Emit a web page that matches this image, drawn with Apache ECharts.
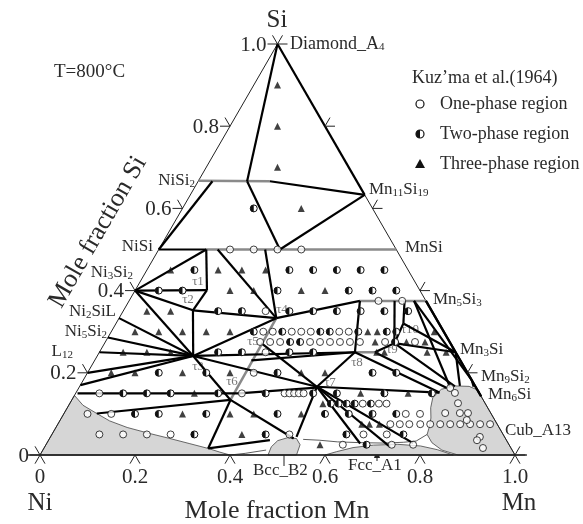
<!DOCTYPE html>
<html><head><meta charset="utf-8">
<script src="https://cdn.jsdelivr.net/npm/echarts@6/dist/echarts.min.js"></script>
<style>html,body{margin:0;padding:0;background:#fff}#chart{width:583px;height:524px}</style>
</head><body><div id="chart"></div>
<script>
// ---- data (compositions as [x(Mn), x(Si)]) ----
const ticks = [0, 0.2, 0.4, 0.6, 0.8, 1.0];
const tickLabels = ['0', '0.2', '0.4', '0.6', '0.8', '1.0'];

const tieLines = [
  [[0,1],[0.103,0.666]],
  [[0,1],[0.367,0.633]],
  [[0.151,0.666],[0.367,0.633]],
  [[0.103,0.666],[0.255,0.5]],
  [[0.255,0.5],[0.367,0.633]],
  [[0,0.5],[0.03,0.666]],
  [[0,0.5],[0.10,0.5]],
  [[0,0.4],[0.10,0.5]],
  [[0.10,0.5],[0.151,0.401]],
  [[0.124,0.5],[0.331,0.333]],
  [[0.224,0.5],[0.331,0.333]],
  [[0,0.4],[0.151,0.401]],
  [[0.151,0.401],[0.146,0.352]],
  [[0,0.4],[0.146,0.352]],
  [[0,0.4],[0.202,0.241]],
  [[0,0.333],[0.202,0.241]],
  [[0,0.286],[0.202,0.241]],
  [[0,0.25],[0.202,0.241]],
  [[0,0.2],[0.202,0.241]],
  [[0,0.17],[0.202,0.241]],
  [[0.146,0.352],[0.202,0.241]],
  [[0.146,0.352],[0.331,0.333]],
  [[0.202,0.241],[0.331,0.333]],
  [[0.202,0.241],[0.538,0.25]],
  [[0.202,0.241],[0.50,0.166]],
  [[0.202,0.241],[0.334,0.134]],
  [[0.331,0.333],[0.486,0.375]],
  [[0.486,0.375],[0.538,0.25]],
  [[0.538,0.25],[0.50,0.166]],
  [[0.33,0.23],[0.538,0.25]],
  [[0.33,0.272],[0.50,0.166]],
  [[0.004,0.15],[0.344,0.15],[0.50,0.164]],
  [[0.069,0.101],[0.334,0.134]],
  [[0.346,0.016],[0.334,0.134]],
  [[0.334,0.134],[0.514,0.04]],
  [[0.346,0.016],[0.466,0.036]],
  [[0.50,0.166],[0.765,0.152]],
  [[0.50,0.166],[0.518,0.044]],
  [[0.50,0.166],[0.66,0.028]],
  [[0.50,0.166],[0.727,0.02]],
  [[0.50,0.166],[0.771,0.029]],
  [[0.538,0.25],[0.765,0.152]],
  [[0.58,0.25],[0.775,0.163]],
  [[0.58,0.25],[0.61,0.272]],
  [[0.559,0.375],[0.61,0.272]],
  [[0.58,0.375],[0.605,0.32]],
  [[0.605,0.32],[0.61,0.272]],
  [[0.605,0.32],[0.75,0.25]],
  [[0.61,0.272],[0.75,0.25]],
  [[0.61,0.272],[0.79,0.167]],
  [[0.60,0.375],[0.78,0.166]],
  [[0.60,0.375],[0.818,0.182]],
  [[0.625,0.375],[0.75,0.25]],
  [[0.625,0.375],[0.857,0.143]],
  [[0.75,0.25],[0.80,0.168]],
  [[0.75,0.25],[0.818,0.182]],
  [[0.818,0.182],[0.83,0.166]],
  [[0.818,0.182],[0.857,0.143]]
];
const ssLines = [
  [[0,0.667],[0.151,0.666]],
  [[0.10,0.5],[0.5,0.5]],
  [[0.486,0.375],[0.625,0.375]],
  [[0.331,0.333],[0.334,0.134]],
  [[0.538,0.25],[0.58,0.25]]
];
const thinCurves = [
  [[0.535,0.038],[0.57,0.036],[0.61,0.032],[0.66,0.03],[0.71,0.029],[0.75,0.031],[0.775,0.034],[0.79,0.05]],
  [[0.40,0],[0.43,0.004],[0.47,0.012]]
];
const greyRegions = [
  [[0,0],[0,0.145],[0.03,0.121],[0.069,0.101],[0.105,0.083],[0.15,0.067],[0.202,0.053],[0.25,0.041],[0.30,0.028],[0.346,0.016],[0.375,0.007],[0.4,0]],
  [[0.48,0],[0.477,0.02],[0.483,0.035],[0.50,0.042],[0.52,0.04],[0.535,0.025],[0.54,0]],
  [[0.60,0],[0.62,0.008],[0.65,0.018],[0.69,0.024],[0.74,0.026],[0.79,0.022],[0.83,0.013],[0.87,0]],
  [[1,0],[0.86,0.14],[0.845,0.157],[0.82,0.167],[0.79,0.168],[0.765,0.16],[0.757,0.14],[0.765,0.115],[0.778,0.09],[0.785,0.07],[0.79,0.05],[0.81,0.03],[0.84,0.012],[0.88,0]]
];
const onePhase = [
  [0.15,0.5],[0.2,0.5],[0.25,0.5],[0.3,0.5],[0.525,0.375],[0.575,0.375],
  [0.3,0.35],
  [0.32,0.3],[0.34,0.3],[0.38,0.3],[0.40,0.3],[0.42,0.3],[0.48,0.3],[0.50,0.3],
  [0.326,0.275],[0.347,0.275],[0.368,0.275],[0.431,0.275],[0.452,0.275],[0.473,0.275],[0.494,0.275],[0.515,0.275],[0.536,0.275],[0.589,0.275],[0.652,0.275],
  [0.35,0.25],[0.35,0.2],
  [0.05,0.15],[0.35,0.15],[0.44,0.15],[0.45,0.15],[0.46,0.15],[0.47,0.15],[0.48,0.15],
  [0.617,0.125],[0.651,0.125],[0.667,0.125],
  [0.05,0.1],[0.1,0.1],[0.72,0.1],[0.75,0.1],
  [0.70,0.075],[0.72,0.075],[0.74,0.075],[0.763,0.075],[0.784,0.075],[0.805,0.075],[0.826,0.075],[0.847,0.075],[0.868,0.075],[0.889,0.075],[0.91,0.075],
  [0.1,0.05],[0.15,0.05],[0.2,0.05],[0.25,0.05],[0.5,0.05],[0.656,0.05],[0.705,0.05],
  [0.625,0.025],[0.728,0.025],[0.773,0.025],
  [0.782,0.163],[0.798,0.151],[0.817,0.126],[0.802,0.102],[0.833,0.102],[0.85,0.102],[0.856,0.085],[0.904,0.044],[0.924,0.017],[0.902,0.036]
];
const twoPhase = [
  [0.15,0.6],
  [0.1,0.45],[0.3,0.45],[0.35,0.45],[0.4,0.45],[0.45,0.45],[0.5,0.45],
  [0.05,0.4],[0.1,0.4],[0.3,0.4],[0.45,0.4],[0.5,0.4],[0.55,0.4],
  [0.2,0.35],[0.25,0.35],[0.35,0.35],[0.4,0.35],[0.45,0.35],[0.5,0.35],[0.55,0.35],[0.6,0.35],
  [0.3,0.3],[0.36,0.3],[0.44,0.3],[0.46,0.3],[0.52,0.3],[0.58,0.3],[0.6,0.3],
  [0.389,0.275],[0.41,0.275],[0.61,0.275],
  [0.25,0.25],[0.3,0.25],[0.4,0.25],[0.45,0.25],
  [0.15,0.2],[0.25,0.2],[0.4,0.2],[0.6,0.2],[0.65,0.2],
  [0.1,0.15],[0.15,0.15],[0.2,0.15],[0.3,0.15],[0.4,0.15],[0.5,0.15],[0.55,0.15],[0.65,0.15],[0.75,0.15],
  [0.55,0.125],[0.566,0.125],[0.583,0.125],[0.6,0.125],[0.634,0.125],
  [0.15,0.1],[0.2,0.1],[0.3,0.1],[0.45,0.1],[0.55,0.1],[0.6,0.1],[0.65,0.1],[0.7,0.1],
  [0.3,0.05],[0.45,0.05],[0.62,0.05],[0.74,0.05],
  [0.675,0.025]
];
const threePhase = [
  [0.05,0.9],[0.1,0.8],[0.15,0.7],[0.25,0.6],
  [0.05,0.45],[0.15,0.45],[0.2,0.45],[0.25,0.45],
  [0.2,0.4],[0.25,0.4],[0.35,0.4],[0.4,0.4],
  [0.05,0.35],[0.1,0.35],
  [0.05,0.3],[0.1,0.3],[0.15,0.3],[0.2,0.3],[0.25,0.3],[0.54,0.3],[0.56,0.3],[0.68,0.3],
  [0.568,0.275],[0.634,0.275],[0.673,0.275],
  [0.05,0.25],[0.1,0.25],[0.15,0.25],[0.584,0.25],[0.6,0.25],[0.69,0.25],[0.73,0.25],
  [0.05,0.2],[0.1,0.2],[0.2,0.2],[0.3,0.2],[0.45,0.2],[0.5,0.2],
  [0.25,0.15],[0.6,0.15],[0.7,0.15],
  [0.533,0.125],
  [0.25,0.1],[0.35,0.1],[0.4,0.1],[0.5,0.1],
  [0.64,0.075],[0.656,0.075],[0.677,0.075],
  [0.4,0.05],[0.577,0.025]
];
const phaseNames = ['Diamond_A4','NiSi2','NiSi','Ni3Si2','Ni2SiL','Ni5Si2','L12','Mn11Si19','MnSi','Mn5Si3','Mn3Si','Mn9Si2','Mn6Si','Cub_A13','Fcc_A1','Bcc_B2','Fcc_A1'];
const tauNames = ['τ1','τ2','τ3','τ4','τ5','τ6','τ7','τ8','τ9','τ10'];

// ---- rendering ----
const FONT = '"Liberation Serif","Times New Roman",serif';
const TXT = '#2a2a2a';
const toXY = p => [p[0] + p[1] / 2, p[1]];
const chart = echarts.init(document.getElementById('chart'));

function pathSeries(list, style, closed, z) {
  return {
    type: 'custom', coordinateSystem: 'cartesian2d', silent: true, z: z, clip: false,
    data: list.map((_, i) => [0.5, 0.5, i]),
    renderItem: (params, api) => {
      const pts = list[api.value(2)].map(p => api.coord(toXY(p)));
      return { type: closed ? 'polygon' : 'polyline', shape: { points: pts }, style: style };
    }
  };
}

const edge = [[[0,0],[1,0],[0,1],[0,0]]];
const L = 10, c60 = 0.5, s60 = Math.sqrt(3) / 2;
const tickSeries = {
  type: 'custom', coordinateSystem: 'cartesian2d', silent: true, z: 5, clip: false,
  data: ticks.map((t, i) => [0.5, 0.5, i]),
  renderItem: (params, api) => {
    const i = api.value(2), t = ticks[i];
    const pl = api.coord(toXY([0, t]));
    const pb = api.coord(toXY([t, 0]));
    const pr = api.coord(toXY([1 - t, t]));
    const ln = (p, dx, dy) => ({ type: 'line', shape: { x1: p[0], y1: p[1], x2: p[0] + dx, y2: p[1] + dy }, style: { stroke: '#222', lineWidth: 1 } });
    return { type: 'group', children: [
      ln(pl, -L, 0), ln(pl, -L * c60, -L * s60),
      ln(pb, -L * c60, L * s60), ln(pb, L * c60, L * s60),
      ln(pr, L, 0), ln(pr, L * c60, -L * s60),
      { type: 'text', style: { text: tickLabels[i], x: pl[0] - L - 1, y: pl[1] + 1, align: 'right', verticalAlign: 'middle', font: '21px ' + FONT, fill: TXT } },
      { type: 'text', style: { text: tickLabels[i], x: pb[0], y: pb[1] + 22, align: 'center', verticalAlign: 'middle', font: '21px ' + FONT, fill: TXT } }
    ] };
  }
};

const R = 3.5;
const halfSeries = {
  type: 'custom', coordinateSystem: 'cartesian2d', silent: true, z: 8, clip: false,
  data: twoPhase.map(p => toXY(p)),
  renderItem: (params, api) => {
    const p = api.coord([api.value(0), api.value(1)]);
    return { type: 'group', children: [
      { type: 'circle', shape: { cx: p[0], cy: p[1], r: R }, style: { fill: '#fff', stroke: '#111', lineWidth: 1 } },
      { type: 'sector', shape: { cx: p[0], cy: p[1], r0: 0, r: R, startAngle: Math.PI / 2, endAngle: Math.PI * 3 / 2, clockwise: true }, style: { fill: '#111' } }
    ] };
  }
};

function label(text, x, y, align, size) {
  return { type: 'text', x: x, y: y, style: { text: text, align: align || 'left', verticalAlign: 'middle', font: (size || 17) + 'px ' + FONT, fill: TXT, rich: { s: { fontSize: 11, fontFamily: FONT, fill: TXT, padding: [7, 0, 0, 0] } } } };
}
function chem(name) { return name.replace(/([A-Za-z])(\d+)/g, '$1{s|$2}'); }

const graphics = [
  label('Si', 277, 20, 'center', 25),
  label('T=800°C', 54, 72, 'left', 19),
  label('Kuz’ma et al.(1964)', 412, 78, 'left', 18),
  { type: 'circle', shape: { cx: 420, cy: 104, r: 4 }, style: { fill: '#fff', stroke: '#111', lineWidth: 1.2 } },
  label('One-phase region', 440, 104, 'left', 18),
  { type: 'circle', shape: { cx: 420, cy: 134, r: 4 }, style: { fill: '#fff', stroke: '#111', lineWidth: 1.2 } },
  { type: 'sector', shape: { cx: 420, cy: 134, r0: 0, r: 4, startAngle: Math.PI / 2, endAngle: Math.PI * 1.5, clockwise: true }, style: { fill: '#111' } },
  label('Two-phase region', 440, 134, 'left', 18),
  { type: 'polygon', shape: { points: [[420, 159], [425, 168], [415, 168]] }, style: { fill: '#111' } },
  label('Three-phase region', 440, 164, 'left', 18),
  label('Mole fraction Mn', 277, 511, 'center', 26),
  label('Ni', 40, 503, 'center', 25),
  label('Mn', 519, 503, 'center', 25),
  { type: 'text', x: 98, y: 232, rotation: Math.PI / 3, style: { text: 'Mole fraction Si', align: 'center', verticalAlign: 'middle', font: '26px ' + FONT, fill: TXT } },
  label(chem(phaseNames[0]), 290, 44, 'left', 18),
  label(chem(phaseNames[1]), 195, 181, 'right'),
  label(chem(phaseNames[2]), 153, 247, 'right'),
  label(chem(phaseNames[3]), 133, 273, 'right'),
  label(chem(phaseNames[4]), 116, 312, 'right'),
  label(chem(phaseNames[5]), 107, 332, 'right'),
  label(chem(phaseNames[6]), 73, 352, 'right'),
  label(chem(phaseNames[7]), 369, 190, 'left'),
  label(chem(phaseNames[8]), 405, 248, 'left'),
  label(chem(phaseNames[9]), 433, 300, 'left'),
  label(chem(phaseNames[10]), 460, 350, 'left'),
  label(chem(phaseNames[11]), 481, 377, 'left'),
  label(chem(phaseNames[12]), 488, 395, 'left'),
  label(phaseNames[13], 505, 431, 'left'),
  label(phaseNames[14], 68, 443, 'left'),
  label(phaseNames[15], 253, 471, 'left'),
  label(phaseNames[16], 348, 466, 'left')
];
const tauPos = [[198,282],[188,300],[198,367],[282,310],[253,342],[232,382],[330,383],[357,363],[392,350],[410,330]];
tauNames.forEach((t, i) => graphics.push({ type: 'text', x: tauPos[i][0], y: tauPos[i][1], style: { text: t, align: 'center', verticalAlign: 'middle', font: '13px ' + FONT, fill: '#777' } }));
graphics.push({ type: 'line', shape: { x1: 284, y1: 466, x2: 284, y2: 446 }, style: { stroke: '#222', lineWidth: 1 } });
graphics.push({ type: 'polygon', shape: { points: [[284, 440], [281, 449], [287, 449]] }, style: { fill: '#222' } });
graphics.push({ type: 'line', shape: { x1: 377, y1: 461, x2: 377, y2: 455 }, style: { stroke: '#222', lineWidth: 1 } });
graphics.push({ type: 'polygon', shape: { points: [[377, 449], [374, 458], [380, 458]] }, style: { fill: '#222' } });

chart.setOption({
  animation: false,
  grid: { left: 40, top: 44, width: 475, height: 411 },
  xAxis: { type: 'value', min: 0, max: 1, show: false },
  yAxis: { type: 'value', min: 0, max: 1, show: false },
  graphic: graphics,
  series: [
    pathSeries(greyRegions, { fill: '#d6d6d6', stroke: '#444', lineWidth: 0.8 }, true, 1),
    pathSeries(thinCurves, { fill: null, stroke: '#333', lineWidth: 0.8 }, false, 2),
    pathSeries(edge, { fill: null, stroke: '#222', lineWidth: 1 }, false, 2),
    pathSeries([[[-0.025, 0], [1.025, 0]]], { fill: null, stroke: '#222', lineWidth: 1.5 }, false, 2),
    tickSeries,
    pathSeries(ssLines, { fill: null, stroke: '#8a8a8a', lineWidth: 2.5 }, false, 3),
    pathSeries(tieLines, { fill: null, stroke: '#000', lineWidth: 2.2 }, false, 4),
    { type: 'scatter', silent: true, z: 8, symbol: 'circle', symbolSize: 7, data: onePhase.map(toXY), itemStyle: { color: '#fff', borderColor: '#111', borderWidth: 1 } },
    halfSeries,
    { type: 'scatter', silent: true, z: 8, symbol: 'triangle', symbolSize: 7, data: threePhase.map(toXY), itemStyle: { color: '#111' } }
  ]
});
</script></body></html>
